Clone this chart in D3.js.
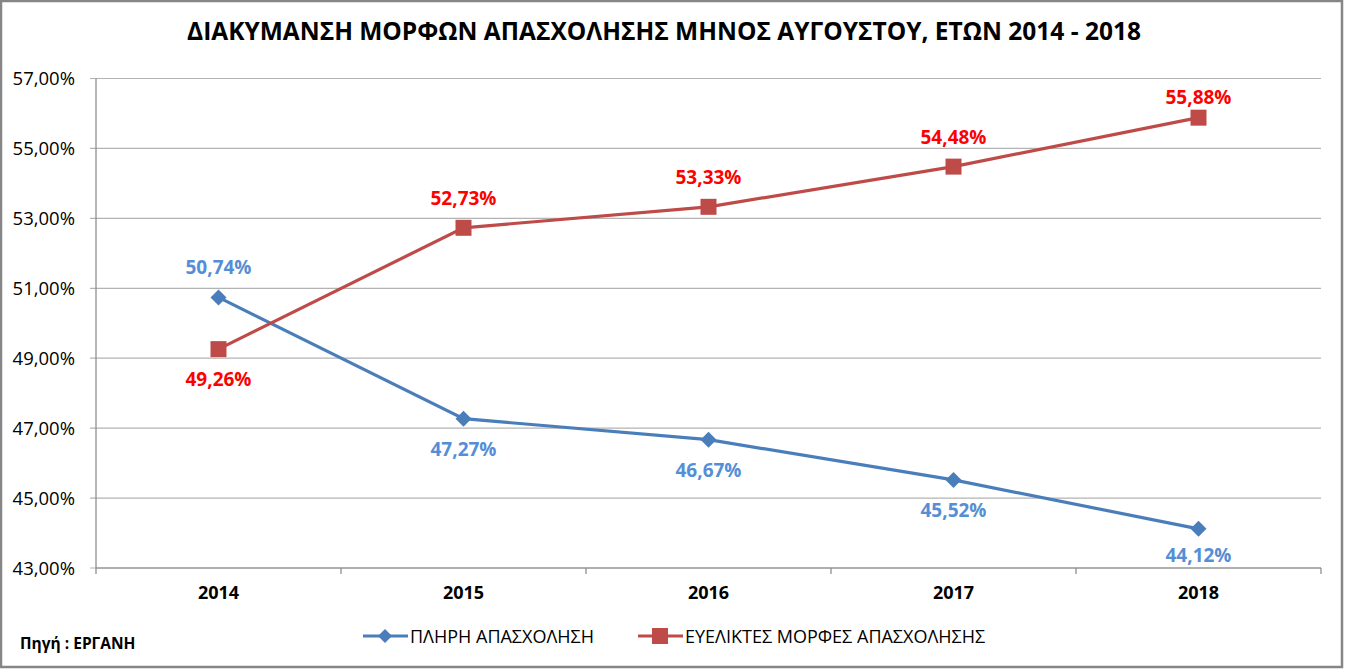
<!DOCTYPE html>
<html>
<head>
<meta charset="utf-8">
<script src="https://cdn.jsdelivr.net/npm/d3@7"></script>
<style>
	body { margin: 0; background: #fff; }
	svg { font-family: "Open Sans", "Noto Sans", sans-serif; }
</style>
</head>
<body>
<svg id="chart" width="1345" height="670"></svg>
<script>
const years = ["2014", "2015", "2016", "2017", "2018"];
const fullTime = [50.74, 47.27, 46.67, 45.52, 44.12];
const flexible = [49.26, 52.73, 53.33, 54.48, 55.88];
const yTicks = [43, 45, 47, 49, 51, 53, 55, 57];
const seriesNames = ["ΠΛΗΡΗ ΑΠΑΣΧΟΛΗΣΗ", "ΕΥΕΛΙΚΤΕΣ ΜΟΡΦΕΣ ΑΠΑΣΧΟΛΗΣΗΣ"];
const title = "ΔΙΑΚΥΜΑΝΣΗ ΜΟΡΦΩΝ ΑΠΑΣΧΟΛΗΣΗΣ ΜΗΝΟΣ ΑΥΓΟΥΣΤΟΥ, ΕΤΩΝ 2014 - 2018";
const source = "Πηγή : ΕΡΓΑΝΗ";

const svg = d3.select("#chart");
const fmt = v => v.toFixed(2).replace(".", ",") + "%";

// outer frame
svg.append("rect")
	.attr("x", 1).attr("y", 1)
	.attr("width", 1341).attr("height", 666)
	.attr("fill", "#fff")
	.attr("stroke", "#868686")
	.attr("stroke-width", 2.5);

svg.append("text")
	.attr("x", 664).attr("y", 40)
	.attr("text-anchor", "middle")
	.attr("font-size", 24.5)
	.attr("font-weight", "bold")
	.text(title);

const x = d3.scaleBand().domain(years).range([96, 1321]);
const y = d3.scaleLinear().domain([43, 57]).range([568, 78.5]);
const cx = d => x(d) + x.bandwidth() / 2;

// gridlines
svg.append("g")
	.selectAll("line")
	.data(yTicks)
	.join("line")
	.attr("x1", 90).attr("x2", 1321)
	.attr("y1", d => y(d)).attr("y2", d => y(d))
	.attr("stroke", "#b3b3b3")
	.attr("stroke-width", 1.2);

svg.append("g")
	.selectAll("text")
	.data(yTicks)
	.join("text")
	.attr("x", 75).attr("y", d => y(d) + 6.5)
	.attr("text-anchor", "end")
	.attr("font-size", 18.5)
	.text(d => d.toFixed(2).replace(".", ",") + "%");

// axes lines
svg.append("line")
	.attr("x1", 96).attr("x2", 96)
	.attr("y1", y(57)).attr("y2", y(43))
	.attr("stroke", "#868686").attr("stroke-width", 1.2);

svg.append("line")
	.attr("x1", 96).attr("x2", 1321)
	.attr("y1", y(43)).attr("y2", y(43))
	.attr("stroke", "#868686").attr("stroke-width", 1.2);

svg.append("g")
	.selectAll("line")
	.data(years.concat(["end"]))
	.join("line")
	.attr("x1", (d, i) => 96 + i * x.bandwidth())
	.attr("x2", (d, i) => 96 + i * x.bandwidth())
	.attr("y1", y(43)).attr("y2", y(43) + 6)
	.attr("stroke", "#868686").attr("stroke-width", 1.2);

svg.append("g")
	.selectAll("text")
	.data(years)
	.join("text")
	.attr("x", d => cx(d)).attr("y", 599)
	.attr("text-anchor", "middle")
	.attr("font-size", 18)
	.attr("font-weight", "bold")
	.text(d => d);

const line = d3.line().x(d => cx(d.year)).y(d => y(d.v));

const series = [
	{ values: fullTime, stroke: "#4a7ebb", fill: "#4a7ebb", label: "#558ed5" },
	{ values: flexible, stroke: "#be4b48", fill: "#be4b48", label: "#ff0000" }
];

series.forEach((s, si) => {
	const pts = s.values.map((v, i) => ({ year: years[i], v: v }));
	svg.append("path")
		.datum(pts)
		.attr("fill", "none")
		.attr("stroke", s.stroke)
		.attr("stroke-width", 3.2)
		.attr("d", line);

	svg.append("g")
		.selectAll("path")
		.data(pts)
		.join("path")
		.attr("transform", d => "translate(" + cx(d.year) + "," + y(d.v) + ")")
		.attr("d", si === 0
			? "M0,-8L8,0L0,8L-8,0Z"
			: "M-8,-8H8V8H-8Z")
		.attr("fill", s.fill);

	svg.append("g")
		.selectAll("text")
		.data(pts)
		.join("text")
		.attr("x", d => cx(d.year))
		.attr("y", (d, i) => {
			// label goes above when this series is on top at that year,
			// kept inside the plot area
			const other = series[1 - si].values[i];
			return d.v > other
				? Math.max(y(d.v) - 23, y(57) + 25)
				: Math.min(y(d.v) + 37, y(43) - 6);
		})
		.attr("text-anchor", "middle")
		.attr("font-size", 19)
		.attr("font-weight", "bold")
		.attr("fill", s.label)
		.text(d => fmt(d.v));
});

// legend
const legend = [
	{ name: seriesNames[0], x0: 363, s: series[0], d: "M0,-7L7,0L0,7L-7,0Z" },
	{ name: seriesNames[1], x0: 638, s: series[1], d: "M-8,-8H8V8H-8Z" }
];
const lg = svg.append("g").selectAll("g").data(legend).join("g")
	.attr("transform", d => "translate(" + d.x0 + ",636)");
lg.append("line")
	.attr("x1", 0).attr("x2", 45)
	.attr("stroke", d => d.s.stroke)
	.attr("stroke-width", 3.2);
lg.append("path")
	.attr("transform", "translate(22,0)")
	.attr("d", d => d.d)
	.attr("fill", d => d.s.fill);
lg.append("text")
	.attr("x", 47).attr("y", 6.5)
	.attr("font-size", 18)
	.text(d => d.name);

svg.append("text")
	.attr("x", 20).attr("y", 649)
	.attr("font-size", 15.5)
	.attr("font-weight", "bold")
	.text(source);
</script>
</body>
</html>
